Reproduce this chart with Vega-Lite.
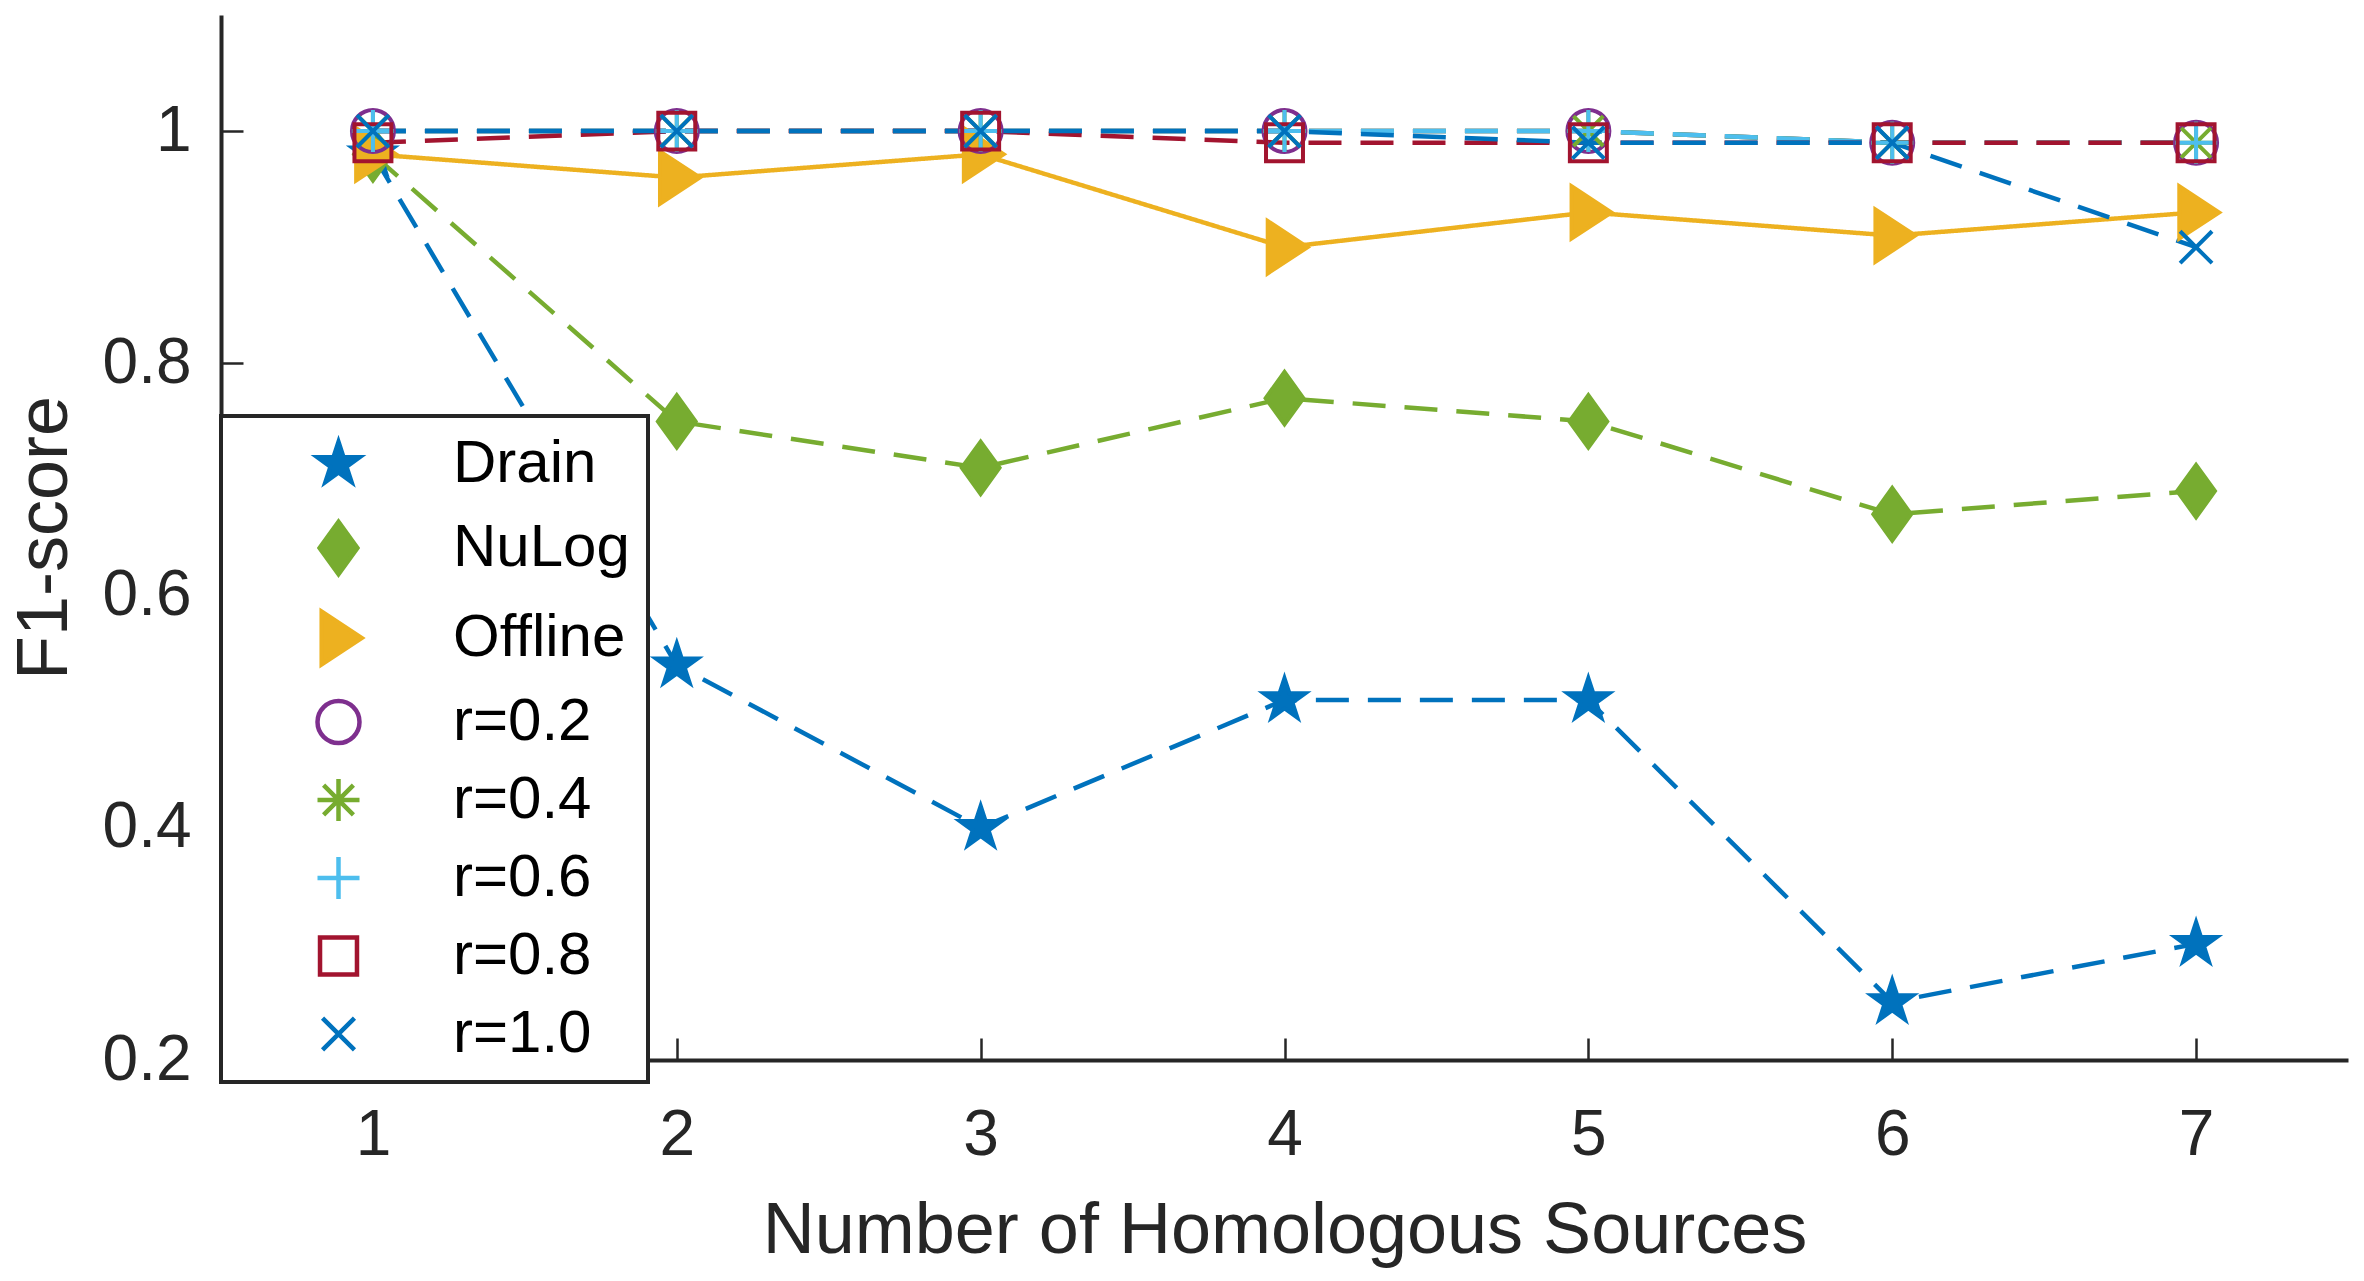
{
  "$schema": "https://vega.github.io/schema/vega-lite/v6.json",
  "width": 2127,
  "height": 1045,
  "autosize": {"type": "none"},
  "padding": {"left": 221, "top": 15, "right": 16, "bottom": 221},
  "background": "white",
  "config": {
    "view": {"stroke": null},
    "font": "Liberation Sans",
    "legend": {
      "orient": "none", "legendX": 0, "legendY": 401,
      "padding": 18, "rowPadding": 18,
      "symbolSize": 1764, "symbolStrokeWidth": 4.5, "symbolOffset": 69.5, "symbolOpacity": 1,
      "labelOffset": 84.5, "labelFont": "Liberation Sans", "labelFontSize": 60, "labelColor": "#000000", "labelLimit": 0,
      "strokeColor": "#262626", "fillColor": "white"
    }
  },
  "data": {"values": [
    {"x": 1, "series": "Drain", "y": 0.98}, {"x": 2, "series": "Drain", "y": 0.54}, {"x": 3, "series": "Drain", "y": 0.40}, {"x": 4, "series": "Drain", "y": 0.51}, {"x": 5, "series": "Drain", "y": 0.51}, {"x": 6, "series": "Drain", "y": 0.25}, {"x": 7, "series": "Drain", "y": 0.30},
    {"x": 1, "series": "NuLog", "y": 0.98}, {"x": 2, "series": "NuLog", "y": 0.75}, {"x": 3, "series": "NuLog", "y": 0.71}, {"x": 4, "series": "NuLog", "y": 0.77}, {"x": 5, "series": "NuLog", "y": 0.75}, {"x": 6, "series": "NuLog", "y": 0.67}, {"x": 7, "series": "NuLog", "y": 0.69},
    {"x": 1, "series": "Offline", "y": 0.98}, {"x": 2, "series": "Offline", "y": 0.96}, {"x": 3, "series": "Offline", "y": 0.98}, {"x": 4, "series": "Offline", "y": 0.90}, {"x": 5, "series": "Offline", "y": 0.93}, {"x": 6, "series": "Offline", "y": 0.91}, {"x": 7, "series": "Offline", "y": 0.93},
    {"x": 1, "series": "r=0.2", "y": 1.0}, {"x": 2, "series": "r=0.2", "y": 1.0}, {"x": 3, "series": "r=0.2", "y": 1.0}, {"x": 4, "series": "r=0.2", "y": 1.0}, {"x": 5, "series": "r=0.2", "y": 1.0}, {"x": 6, "series": "r=0.2", "y": 0.99}, {"x": 7, "series": "r=0.2", "y": 0.99},
    {"x": 1, "series": "r=0.4", "y": 1.0}, {"x": 2, "series": "r=0.4", "y": 1.0}, {"x": 3, "series": "r=0.4", "y": 1.0}, {"x": 4, "series": "r=0.4", "y": 1.0}, {"x": 5, "series": "r=0.4", "y": 1.0}, {"x": 6, "series": "r=0.4", "y": 0.99}, {"x": 7, "series": "r=0.4", "y": 0.99},
    {"x": 1, "series": "r=0.6", "y": 1.0}, {"x": 2, "series": "r=0.6", "y": 1.0}, {"x": 3, "series": "r=0.6", "y": 1.0}, {"x": 4, "series": "r=0.6", "y": 1.0}, {"x": 5, "series": "r=0.6", "y": 1.0}, {"x": 6, "series": "r=0.6", "y": 0.99}, {"x": 7, "series": "r=0.6", "y": 0.99},
    {"x": 1, "series": "r=0.8", "y": 0.99}, {"x": 2, "series": "r=0.8", "y": 1.0}, {"x": 3, "series": "r=0.8", "y": 1.0}, {"x": 4, "series": "r=0.8", "y": 0.99}, {"x": 5, "series": "r=0.8", "y": 0.99}, {"x": 6, "series": "r=0.8", "y": 0.99}, {"x": 7, "series": "r=0.8", "y": 0.99},
    {"x": 1, "series": "r=1.0", "y": 1.0}, {"x": 2, "series": "r=1.0", "y": 1.0}, {"x": 3, "series": "r=1.0", "y": 1.0}, {"x": 4, "series": "r=1.0", "y": 1.0}, {"x": 5, "series": "r=1.0", "y": 0.99}, {"x": 6, "series": "r=1.0", "y": 0.99}, {"x": 7, "series": "r=1.0", "y": 0.90}
  ]},
  "encoding": {
    "x": {
      "field": "x", "type": "quantitative",
      "scale": {"domain": [0.5, 7.5], "nice": false, "zero": false},
      "axis": {
        "values": [1, 2, 3, 4, 5, 6, 7], "grid": false,
        "tickSize": -22, "tickWidth": 2.5, "tickColor": "#262626",
        "domainColor": "#262626", "domainWidth": 4,
        "labelFont": "Liberation Sans", "labelFontSize": 64, "labelColor": "#262626", "labelPadding": 65, "labelFlush": false,
        "title": "Number of Homologous Sources", "titleFont": "Liberation Sans", "titleFontSize": 72, "titleFontWeight": "normal", "titleColor": "#262626", "titlePadding": 28
      }
    },
    "y": {
      "field": "y", "type": "quantitative",
      "scale": {"domain": [0.2, 1.1], "nice": false, "zero": false},
      "axis": {
        "values": [0.2, 0.4, 0.6, 0.8, 1], "grid": false,
        "labelExpr": "datum.value == 1 ? '1' : format(datum.value, '.1f')",
        "tickSize": -22, "tickWidth": 2.5, "tickColor": "#262626",
        "domainColor": "#262626", "domainWidth": 4,
        "labelFont": "Liberation Sans", "labelFontSize": 64, "labelColor": "#262626", "labelPadding": 52, "labelFlush": false,
        "title": "F1-score", "titleFont": "Liberation Sans", "titleFontSize": 72, "titleFontWeight": "normal", "titleColor": "#262626", "titlePadding": 21
      }
    }
  },
  "layer": [
    {
      "mark": {"type": "line", "strokeWidth": 4.5},
      "encoding": {
        "stroke": {"field": "series", "type": "nominal",
          "legend": {"title": null, "orient": "none", "legendX": 0, "legendY": 401, "encode": {"legend": {"update": {"strokeWidth": {"value": 4}}}}},
          "scale": {"domain": ["Drain", "NuLog", "Offline", "r=0.2", "r=0.4", "r=0.6", "r=0.8", "r=1.0"],
                    "range": ["#0072BD", "#77AC30", "#EDB120", "#7E2F8E", "#77AC30", "#4DBEEE", "#A2142F", "#0072BD"]}},
        "strokeDash": {"field": "series", "type": "nominal", "legend": null,
          "scale": {"domain": ["Offline", "Drain", "NuLog", "r=0.2", "r=0.4", "r=0.6", "r=0.8", "r=1.0"],
                    "range": [[1, 0], [33, 19], [33, 19], [33, 19], [33, 19], [33, 19], [33, 19], [33, 19]]}}
      }
    },
    {
      "mark": {"type": "point", "filled": false, "opacity": 1, "size": 1764, "strokeWidth": 4},
      "encoding": {
        "shape": {"field": "series", "type": "nominal",
          "scale": {"domain": ["Drain", "NuLog", "Offline", "r=0.2", "r=0.4", "r=0.6", "r=0.8", "r=1.0"],
                    "range": [
                      "M0,-1.05L0.236,-0.325L0.999,-0.324L0.381,0.124L0.617,0.849L0,0.401L-0.617,0.849L-0.381,0.124L-0.999,-0.324L-0.236,-0.325Z",
                      "M0,-1.25L0.9,0L0,1.25L-0.9,0Z",
                      "M-0.8,-1.25L1.1,0L-0.8,1.25Z",
                      "circle",
                      "M-1,0L1,0M0,-1L0,1M-0.71,-0.71L0.71,0.71M-0.71,0.71L0.71,-0.71",
                      "M-1,0L1,0M0,-1L0,1",
                      "M-0.88,-0.88L0.88,-0.88L0.88,0.88L-0.88,0.88Z",
                      "M-0.76,-0.76L0.76,0.76M-0.76,0.76L0.76,-0.76"
                    ]},
          "legend": {"title": null, "orient": "none", "legendX": 0, "legendY": 401, "encode": {"legend": {"update": {"strokeWidth": {"value": 4}}}}}
        },
        "stroke": {"field": "series", "type": "nominal",
          "legend": {"title": null, "orient": "none", "legendX": 0, "legendY": 401, "encode": {"legend": {"update": {"strokeWidth": {"value": 4}}}}}
        },
        "fill": {"field": "series", "type": "nominal",
          "legend": {"title": null, "orient": "none", "legendX": 0, "legendY": 401, "encode": {"legend": {"update": {"strokeWidth": {"value": 4}}}}},
          "scale": {"domain": ["Drain", "NuLog", "Offline", "r=0.2", "r=0.4", "r=0.6", "r=0.8", "r=1.0"],
                    "range": ["#0072BD", "#77AC30", "#EDB120", "transparent", "transparent", "transparent", "transparent", "transparent"]}}
      }
    }
  ]
}
